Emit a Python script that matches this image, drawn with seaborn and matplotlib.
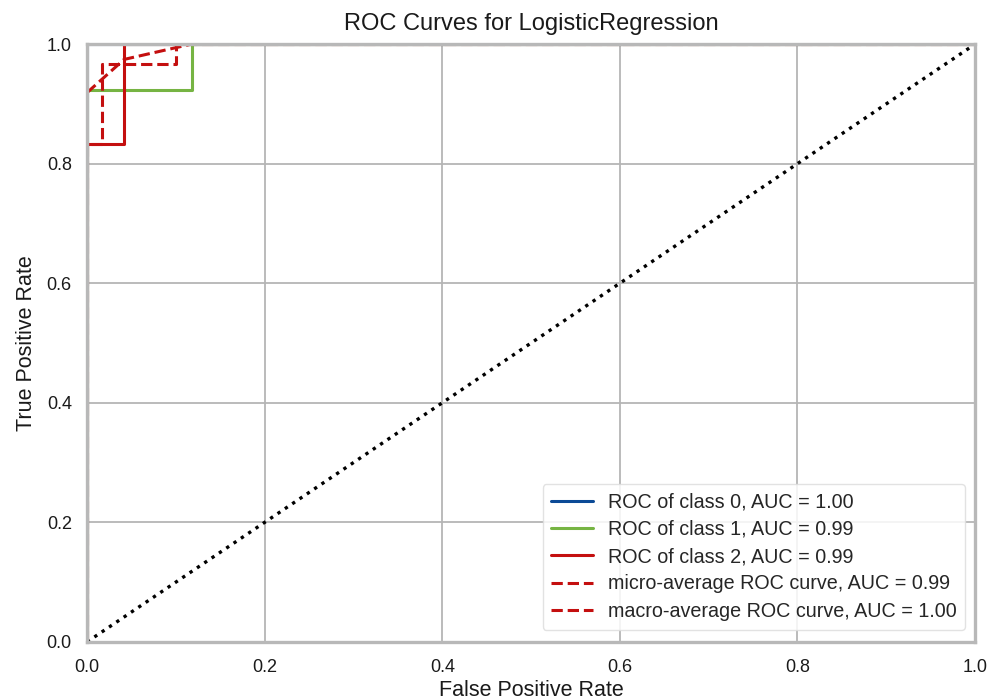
import numpy as np
import pandas as pd
import matplotlib
matplotlib.use("Agg")
import matplotlib.pyplot as plt
import seaborn as sns

# ROC curve coordinates per class (false positive rate, true positive rate)
fpr_class0 = [0.0, 0.0, 1.0]
tpr_class0 = [0.0, 1.0, 1.0]
fpr_class1 = [0.0, 0.0, 2 / 17, 2 / 17, 1.0]
tpr_class1 = [0.0, 12 / 13, 12 / 13, 1.0, 1.0]
fpr_class2 = [0.0, 0.0, 1 / 24, 1 / 24, 1.0]
tpr_class2 = [0.0, 5 / 6, 5 / 6, 1.0, 1.0]
fpr_micro = [0.0, 0.0, 1 / 60, 1 / 60, 6 / 60, 6 / 60, 1.0]
tpr_micro = [0.0, 25 / 30, 25 / 30, 29 / 30, 29 / 30, 1.0, 1.0]
fpr_macro = [0.0, 1 / 24, 2 / 17, 1.0]
tpr_macro = [(1 + 12 / 13 + 5 / 6) / 3, (1 + 12 / 13 + 1) / 3, 1.0, 1.0]

labels = [
    "ROC of class 0, AUC = 1.00",
    "ROC of class 1, AUC = 0.99",
    "ROC of class 2, AUC = 0.99",
    "micro-average ROC curve, AUC = 0.99",
    "macro-average ROC curve, AUC = 1.00",
]
colors = ["#0b4a96", "#76b443", "#c40f0f", "#c40f0f", "#c40f0f"]
styles = ["-", "-", "-", "--", "--"]

sns.set_theme(style="whitegrid")
plt.rcParams["font.family"] = ["Liberation Sans", "DejaVu Sans"]

fig, ax = plt.subplots(figsize=(9.95, 7.0), dpi=100)
fig.subplots_adjust(left=0.0875, right=0.98, top=0.937, bottom=0.083)

curves = [
    (fpr_class0, tpr_class0),
    (fpr_class1, tpr_class1),
    (fpr_class2, tpr_class2),
    (fpr_micro, tpr_micro),
    (fpr_macro, tpr_macro),
]
for (fx, ty), lab, col, ls in zip(curves, labels, colors, styles):
    df = pd.DataFrame({"fpr": fx, "tpr": ty})
    sns.lineplot(data=df, x="fpr", y="tpr", sort=False, estimator=None,
                 color=col, linestyle=ls, linewidth=2.2, label=lab, ax=ax)

# chance diagonal
diag = pd.DataFrame({"fpr": [0.0, 1.0], "tpr": [0.0, 1.0]})
sns.lineplot(data=diag, x="fpr", y="tpr", sort=False, estimator=None,
             color="black", linestyle=":", linewidth=2.4, ax=ax)

ax.set_xlim(0, 1)
ax.set_ylim(0, 1)
ax.set_xticks(np.arange(0, 1.01, 0.2))
ax.set_yticks(np.arange(0, 1.01, 0.2))
ax.set_title("ROC Curves for LogisticRegression", fontsize=17, color="#1a1a1a", pad=10)
ax.set_xlabel("False Positive Rate", fontsize=15.5, color="#1a1a1a", labelpad=3)
ax.set_ylabel("True Positive Rate", fontsize=15.5, color="#1a1a1a", labelpad=7)
ax.tick_params(axis="both", labelsize=13, colors="#1a1a1a", length=0)
ax.tick_params(axis="x", pad=12)
ax.tick_params(axis="y", pad=11)

ax.grid(True, color="#b5b5b5", linewidth=1.3)
for sp in ax.spines.values():
    sp.set_color("#b8b8b8")
    sp.set_linewidth(2.4)
    sp.set_zorder(5)

leg = ax.legend(loc="lower right", fontsize=14.2, frameon=True, handlelength=2.1,
                borderpad=0.45, labelspacing=0.42, handletextpad=0.75,
                bbox_to_anchor=(1.0, 0.004))
leg.get_frame().set_edgecolor("#dddddd")
leg.get_frame().set_alpha(0.85)

fig.savefig("out.png", dpi=100)
